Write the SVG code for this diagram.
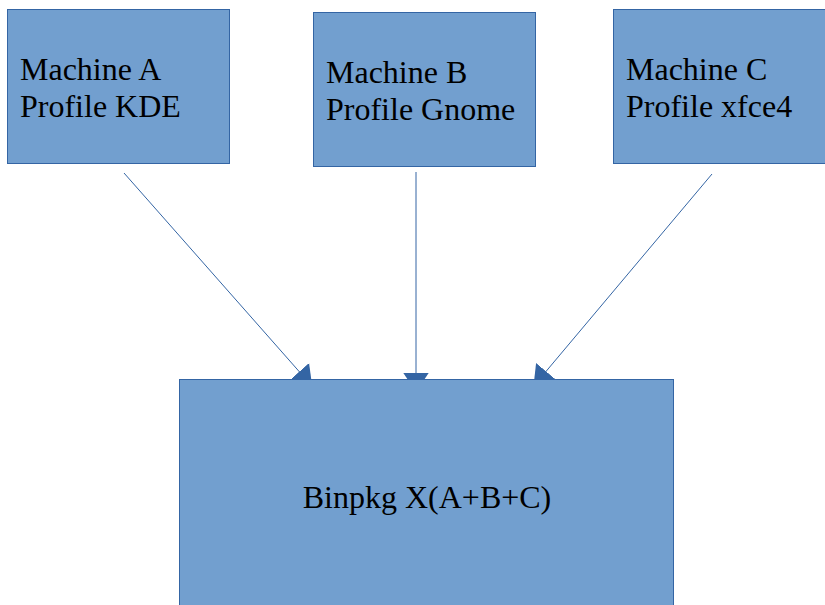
<svg xmlns="http://www.w3.org/2000/svg" width="825" height="605" viewBox="0 0 825 605">
<style>
.box{fill:#729fcf;stroke:#3465a4;stroke-width:1}
.lbl{font-family:"Liberation Serif","Times New Roman",serif;font-size:32px;fill:#000}
.conn{stroke:#3465a4;stroke-width:1;fill:none}
</style>
<defs>
<marker id="ah" markerUnits="userSpaceOnUse" orient="auto" markerWidth="22" markerHeight="28" viewBox="0 -14 22 28" refX="19.5" refY="0">
<path d="M0,-13 L19.5,0 L0,13 z" fill="#3465a4"/>
</marker>
</defs>
<rect width="825" height="605" fill="#fff"/>
<g id="connectors">
<line class="conn" x1="124" y1="173" x2="312.2" y2="386.3" marker-end="url(#ah)"/>
<line class="conn" x1="416" y1="172" x2="416" y2="392" marker-end="url(#ah)"/>
<line class="conn" x1="712" y1="174" x2="533.5" y2="386.3" marker-end="url(#ah)"/>
</g>
<g id="machineA">
<rect class="box" x="7.5" y="9.5" width="222" height="154"/>
<text class="lbl" x="20" y="80">Machine A</text>
<text class="lbl" x="20" y="117">Profile KDE</text>
</g>
<g id="machineB">
<rect class="box" x="313.5" y="12.5" width="222" height="154"/>
<text class="lbl" x="326" y="83">Machine B</text>
<text class="lbl" x="326" y="120">Profile Gnome</text>
</g>
<g id="machineC">
<rect class="box" x="613.5" y="9.5" width="222" height="154"/>
<text class="lbl" x="626" y="80">Machine C</text>
<text class="lbl" x="626" y="117">Profile xfce4</text>
</g>
<g id="binpkg">
<rect class="box" x="179.5" y="379.5" width="494" height="240"/>
<text class="lbl" x="427" y="508" text-anchor="middle">Binpkg X(A+B+C)</text>
</g>
</svg>
